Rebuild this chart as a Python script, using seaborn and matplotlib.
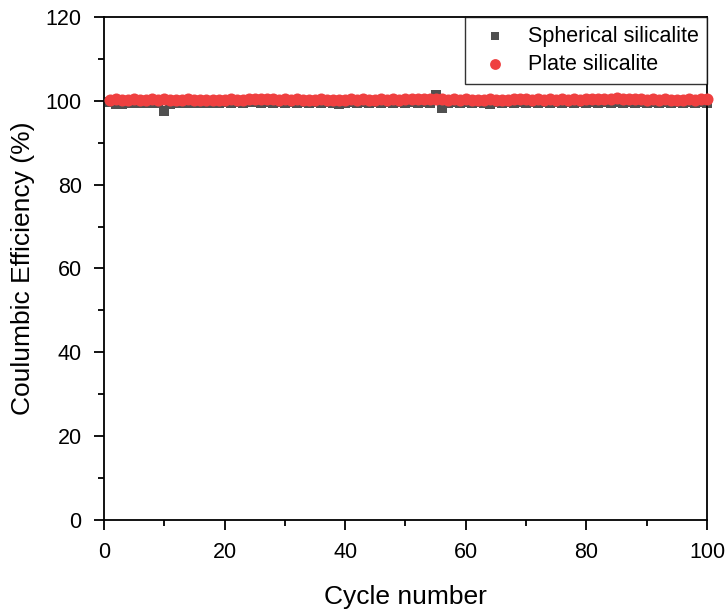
import numpy as np
import pandas as pd
import matplotlib
matplotlib.use("Agg")
import matplotlib.pyplot as plt
import seaborn as sns
from matplotlib.ticker import MultipleLocator

cycles = list(range(1, 101))
spherical = [99.8, 99.2, 99.3, 99.4, 99.5, 99.4, 99.5, 99.4, 99.5, 97.6,
             99.3, 99.4, 99.5, 99.4, 99.5, 99.5, 99.4, 99.5, 99.5, 99.6,
             99.5, 99.6, 99.5, 99.6, 99.6, 99.5, 99.6, 99.5, 99.6, 99.5,
             99.6, 99.5, 99.6, 99.5, 99.6, 99.5, 99.6, 99.5, 99.2, 99.5,
             99.6, 99.5, 99.6, 99.5, 99.6, 99.5, 99.6, 99.5, 99.6, 99.5,
             99.6, 99.5, 99.6, 99.5, 101.5, 98.3, 99.5, 99.6, 99.5, 99.6,
             99.5, 99.6, 99.5, 99.3, 99.6, 99.5, 99.6, 99.5, 99.6, 99.5,
             99.6, 99.5, 99.6, 99.5, 99.6, 99.5, 99.6, 99.5, 99.6, 99.5,
             99.6, 99.5, 99.6, 99.5, 99.6, 99.5, 99.6, 99.5, 99.6, 99.5,
             99.6, 99.5, 99.6, 99.5, 99.6, 99.5, 99.6, 99.5, 99.6, 99.5]
plate = [100.3, 100.4, 100.2, 100.3, 100.4, 100.3, 100.2, 100.4, 100.3, 100.5,
         100.2, 100.3, 100.2, 100.4, 100.3, 100.2, 100.3, 100.2, 100.3, 100.3,
         100.4, 100.3, 100.2, 100.4, 100.5, 100.4, 100.5, 100.4, 100.3, 100.4,
         100.3, 100.4, 100.3, 100.2, 100.3, 100.4, 100.3, 100.2, 100.3, 100.3,
         100.4, 100.3, 100.4, 100.3, 100.3, 100.4, 100.3, 100.4, 100.3, 100.4,
         100.5, 100.4, 100.5, 100.4, 100.5, 100.4, 100.3, 100.4, 100.3, 100.4,
         100.3, 100.2, 100.3, 100.4, 100.3, 100.2, 100.3, 100.4, 100.5, 100.4,
         100.3, 100.4, 100.3, 100.4, 100.3, 100.4, 100.3, 100.4, 100.3, 100.4,
         100.4, 100.5, 100.4, 100.5, 100.6, 100.5, 100.4, 100.5, 100.4, 100.3,
         100.4, 100.3, 100.4, 100.3, 100.2, 100.3, 100.4, 100.3, 100.4, 100.5]
labels = ["Spherical silicalite", "Plate silicalite"]
colors = ["#505050", "#EF4040"]

sns.set_style("white")
plt.rcParams['font.family'] = ['Liberation Sans', 'DejaVu Sans']
plt.rcParams['text.color'] = 'black'
plt.rcParams['axes.labelcolor'] = 'black'
plt.rcParams['xtick.color'] = 'black'
plt.rcParams['ytick.color'] = 'black'

fig = plt.figure(figsize=(7.27, 6.13), dpi=100)
ax = fig.add_axes([0.143, 0.1517, 0.8295, 0.8206])

sns.scatterplot(x=cycles, y=spherical, marker="s", s=50, color=colors[0],
                linewidth=0, label=labels[0], ax=ax, zorder=2, clip_on=False)
sns.scatterplot(x=cycles, y=plate, marker="o", s=75, color=colors[1],
                linewidth=0, label=labels[1], ax=ax, zorder=3, clip_on=False)

ax.set_xlim(0, 100)
ax.set_ylim(0, 120)
ax.xaxis.set_major_locator(MultipleLocator(20))
ax.xaxis.set_minor_locator(MultipleLocator(10))
ax.yaxis.set_major_locator(MultipleLocator(20))
ax.yaxis.set_minor_locator(MultipleLocator(10))
ax.tick_params(which="major", direction="out", length=7, width=1.3, labelsize=15.5,
               bottom=True, left=True, top=False, right=False, color="black",
               labelcolor="black", pad=9)
ax.tick_params(which="minor", direction="out", length=4, width=1.3,
               bottom=True, left=True, top=False, right=False, color="black")
for sp in ax.spines.values():
    sp.set_color("black")
    sp.set_linewidth(1.3)
ax.set_xlabel("Cycle number", fontsize=19, labelpad=16, color="black")
ax.set_ylabel("Coulumbic Efficiency (%)", fontsize=19, labelpad=8, color="black")

leg = ax.legend(loc="upper right", fontsize=15.5,
                frameon=True, fancybox=False, edgecolor="black", borderaxespad=0,
                handletextpad=0.5, handlelength=2.0, labelspacing=0.35,
                borderpad=0.4, markerscale=0.9)
leg.get_frame().set_linewidth(1.0)
for t in leg.get_texts():
    t.set_color("black")

fig.savefig("out.png", dpi=100)
